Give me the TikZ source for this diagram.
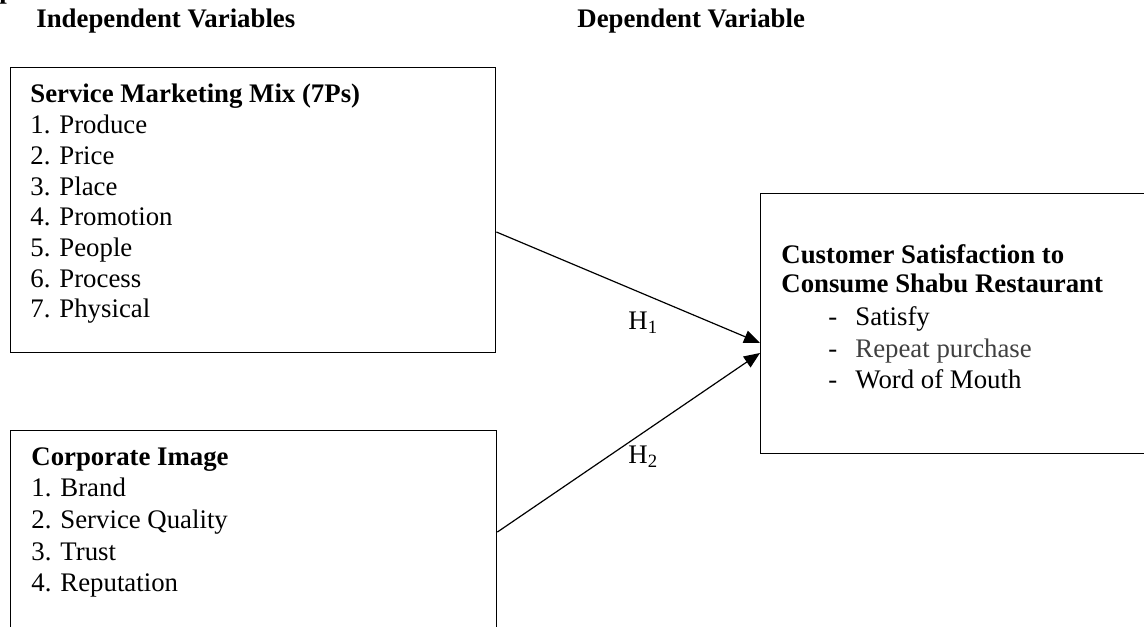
\documentclass[tikz,border=0pt]{standalone}
\usepackage{fontspec}
\setmainfont{Liberation Serif}
\usetikzlibrary{arrows.meta}
\begin{document}
\begin{tikzpicture}[x=0.5pt,y=-0.5pt,
  frame/.style={draw, line width=0.7pt, inner sep=0pt, anchor=north west},
  txt/.style={anchor=base west, inner sep=0pt, font=\fontsize{13.4}{16}\selectfont},
  hd/.style={txt, font=\fontsize{13.4}{16}\selectfont\bfseries},
  arr/.style={line width=0.6pt, -{Triangle[length=8pt,width=6.5pt]}}]
\useasboundingbox (0,0) rectangle (1144,626);
% clipped remnant of a heading above
\node[hd] (rem) at (-1,-1) {p};
% headings
\node[hd] (indep) at (36,28) {Independent Variables};
\node[hd] (dep) at (577,28) {Dependent Variable};
% boxes
\node[frame, minimum width=242.5pt, minimum height=142.5pt] (b1) at (10,67) {};
\node[frame, minimum width=243pt, minimum height=150pt] (b2) at (10,430) {};
\node[frame, minimum width=230pt, minimum height=130pt] (b3) at (760,193) {};
% box 1 text
\node[hd] (t1) at (30,103) {Service Marketing Mix (7Ps)};
\foreach \t [count=\i] in {Produce, Price, Place, Promotion, People, Process, Physical}
  \node[txt] (p\i) at (30,{103+30.7*\i}) {\i. \t};
% box 2 text
\node[hd] (t2) at (31,465) {Corporate Image};
\foreach \t [count=\i] in {Brand, Service Quality, Trust, Reputation}
  \node[txt] (c\i) at (31,{465+31.7*\i}) {\i. \t};
% box 3 text
\node[hd] (t3a) at (781,263) {Customer Satisfaction to};
\node[hd] (t3b) at (781,292) {Consume Shabu Restaurant};
\node[txt] (d1) at (828,325) {-};
\node[txt] (s1) at (855,325) {Satisfy};
\node[txt] (d2) at (828,357) {-};
\node[txt, text=black!75] (s2) at (855,357) {Repeat purchase};
\node[txt] (d3) at (828,388) {-};
\node[txt] (s3) at (855,388) {Word of Mouth};
% connectors
\draw[arr] ([yshift=-82.5pt]b1.north east) -- ([yshift=-75pt]b3.north west);
\draw[arr] ([yshift=-51pt]b2.north east) -- ([yshift=-80pt]b3.north west);
\node[txt] (h1) at (628,329) {H\textsubscript{1}};
\node[txt] (h2) at (628,463) {H\textsubscript{2}};
\end{tikzpicture}
\end{document}
